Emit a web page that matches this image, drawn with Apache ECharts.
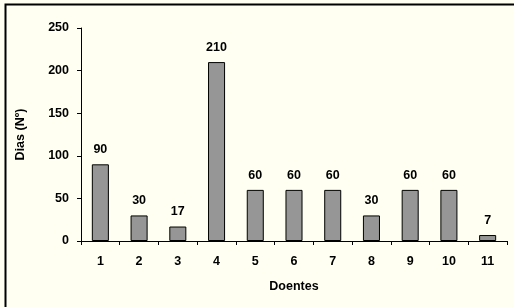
<!DOCTYPE html>
<html>
<head>
<meta charset="utf-8">
<script src="https://cdn.jsdelivr.net/npm/echarts@6/dist/echarts.min.js"></script>
<style>
    html, body { margin: 0; padding: 0; background: #fffff2; }
    #chart { width: 514px; height: 307px; }
</style>
</head>
<body>
<div id="chart"></div>
<script>
    // doentes e dias
    var doentes = ['1', '2', '3', '4', '5', '6', '7', '8', '9', '10', '11'];
    var dias = [90, 30, 17, 210, 60, 60, 60, 30, 60, 60, 7];

    var fontBase = {
        fontFamily: 'Liberation Sans, Arial, sans-serif',
        fontWeight: 'bold',
        fontSize: 12.5,
        color: '#000'
    };

    var chart = echarts.init(document.getElementById('chart'));
    chart.setOption({
        backgroundColor: '#fffff2',
        animation: false,
        graphic: [{
            type: 'rect',
            shape: { x: 5.5, y: 4.5, width: 520, height: 320 },
            style: { fill: 'none', stroke: '#000', lineWidth: 2 },
            z: 10
        }],
        grid: { left: 81, right: 7, top: 28, bottom: 66 },
        xAxis: {
            type: 'category',
            data: doentes,
            name: 'Doentes',
            nameLocation: 'middle',
            nameGap: 39,
            nameTextStyle: fontBase,
            axisLine: { lineStyle: { color: '#000', width: 1 } },
            axisTick: { show: true, length: 4, lineStyle: { color: '#000' } },
            axisLabel: Object.assign({ margin: 14 }, fontBase),
            splitLine: { show: false }
        },
        yAxis: {
            type: 'value',
            min: 0,
            max: 250,
            interval: 50,
            name: 'Dias (Nº)',
            nameLocation: 'middle',
            nameGap: 54,
            nameTextStyle: fontBase,
            axisLine: { show: true, lineStyle: { color: '#000', width: 1 } },
            axisTick: { show: true, length: 4, lineStyle: { color: '#000' } },
            axisLabel: Object.assign({ margin: 12 }, fontBase),
            splitLine: { show: false }
        },
        series: [{
            type: 'bar',
            data: dias,
            barWidth: '44%',
            itemStyle: { color: '#969696', borderColor: '#000', borderWidth: 1 },
            label: Object.assign({ show: true, position: 'top', distance: 8 }, fontBase)
        }]
    });
</script>
</body>
</html>
